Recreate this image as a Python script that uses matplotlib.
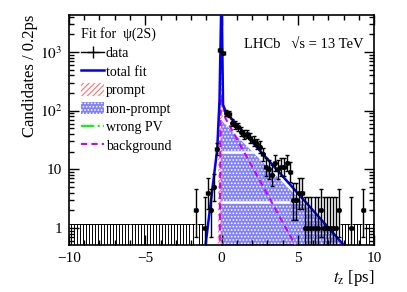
import math
import numpy as np
import matplotlib
matplotlib.use("Agg")
import matplotlib.pyplot as plt
from matplotlib.patches import Patch
from matplotlib.lines import Line2D
from matplotlib.ticker import FixedLocator, FuncFormatter, LogLocator, NullFormatter

plt.rcParams['font.family'] = ['Liberation Serif', 'DejaVu Serif']
plt.rcParams['mathtext.fontset'] = 'stix'
plt.rcParams['hatch.linewidth'] = 0.8

# data: 0.2 ps bins from -10 to 10, counts (non-zero bins only)
bin_centers = np.round(np.arange(-9.9, 10.0, 0.2), 1)
nonzero_t = [-1.7, -1.1, -0.9, -0.7, -0.5, -0.3, -0.1, 0.1, 0.3, 0.5, 0.7, 0.9,
             1.1, 1.3, 1.5, 1.7, 1.9, 2.1, 2.3, 2.5, 2.7, 2.9, 3.1, 3.3, 3.5,
             3.7, 3.9, 4.1, 4.3, 4.5, 4.7, 4.9, 5.1, 5.3, 5.5, 5.7, 5.9, 6.1,
             6.3, 6.5, 6.7, 6.9, 7.1, 7.3, 7.5, 7.7, 8.5, 9.3]
nonzero_n = [2, 1, 4, 2, 5, 22, 1100, 960, 91, 88, 62, 57,
             53, 44, 39, 40, 34, 30, 27, 24, 18, 11, 10, 8, 13,
             10, 11, 11, 13, 9, 3, 3, 4, 4, 1, 1, 1, 1,
             1, 2, 1, 1, 1, 1, 1, 2, 1, 2]

# fit components, read as (t, value) nodes
total_t = [-1.05, -0.28, -0.13, -0.02, 0.02, 0.1, 0.3, 8.3]
total_v = [0.5, 22, 155, 6000, 6000, 126, 93, 0.42]
prompt_t = [-0.26, -0.2, -0.06, 0.0, 0.04, 0.08, 0.09]
prompt_v = [0.3, 100, 2000, 4000, 2000, 100, 0.3]
nonprompt_t = [-0.07, -0.06, 0.05, 8.1]
nonprompt_v = [0.3, 50, 66, 0.5]
wrongpv_t = [-10, 10]
wrongpv_v = [0.05, 0.05]
bkg_t = [-0.12, -0.05, 0.02, 0.25, 4.85]
bkg_v = [0.4, 180, 180, 75, 0.5]

ymin, ymax = 0.51, 4300


def poisson_cdf(n, mu):
    if n < 0:
        return 0.0
    logs = [-mu + k * math.log(mu) - math.lgamma(k + 1) for k in range(n + 1)]
    m = max(logs)
    return min(1.0, math.exp(m) * sum(math.exp(v - m) for v in logs))


def solve(f, target, lo, hi):
    # f decreasing in mu
    for _ in range(80):
        mid = 0.5 * (lo + hi)
        if f(mid) > target:
            lo = mid
        else:
            hi = mid
    return 0.5 * (lo + hi)


def poisson_interval(n):
    if n == 0:
        return 0.0, -math.log(1 - 0.6827)
    a = 0.5 * (1 - 0.6827)
    hi = n + 10 * math.sqrt(n) + 10
    up = solve(lambda mu: poisson_cdf(n, mu), a, 1e-9, hi)
    low = solve(lambda mu: poisson_cdf(n - 1, mu), 1 - a, 1e-9, hi)
    return low, up


fig, ax = plt.subplots(figsize=(4.07, 2.92), dpi=100)
fig.subplots_adjust(left=0.1695, right=0.919, top=0.9486, bottom=0.161)
ax.set_yscale('log')

# non-prompt fill
np_poly = ax.fill(nonprompt_t + [nonprompt_t[-1], nonprompt_t[0]],
                  nonprompt_v + [0.1, 0.1], facecolor='#8080ff', hatch='.....',
                  edgecolor='white', lw=0, zorder=1)[0]
for lev, x1 in [(20, 10), (2.8, 4.5)]:
    ln = ax.hlines(lev, -1, x1, color='white', lw=1.8, zorder=1.5)
    ln.set_clip_path(np_poly)

# prompt hatch
ax.fill_between(prompt_t, 0.1, prompt_v, facecolor='none', hatch='//////',
                edgecolor='#ff7070', lw=0, zorder=2)

ax.plot(wrongpv_t, wrongpv_v, color='#00ff00', ls='-.', lw=1.5, zorder=3)
ax.plot(bkg_t, bkg_v, color='#cc00ff', ls=(0, (3, 2)), lw=1.5, zorder=3)
ax.plot(total_t, total_v, color='#0000ee', lw=1.8, zorder=4)

# data
counts = dict(zip(nonzero_t, nonzero_n))
n_all = np.array([counts.get(t, 0) for t in bin_centers])
intervals = [poisson_interval(int(n)) for n in n_all]
low = np.array([i[0] for i in intervals])
up = np.array([i[1] for i in intervals])

zero = n_all == 0
ax.errorbar(bin_centers[zero], up[zero], yerr=[up[zero] - 1e-3, np.zeros(zero.sum())],
            fmt='none', ecolor='black', elinewidth=0.7, capsize=1.3, capthick=0.7,
            zorder=5)
nz = ~zero
ax.errorbar(bin_centers[nz], n_all[nz], yerr=[n_all[nz] - low[nz], up[nz] - n_all[nz]],
            xerr=0.1, fmt='o', ms=2.5, color='black', ecolor='black',
            elinewidth=1.0, capsize=1.3, capthick=1.0, zorder=6)

ax.set_xlim(-10, 10)
ax.set_ylim(ymin, ymax)

ax.xaxis.set_major_locator(FixedLocator([-10, -5, 0, 5, 10]))
ax.xaxis.set_minor_locator(FixedLocator(np.arange(-10, 10.1, 1)))
ax.yaxis.set_major_locator(LogLocator(base=10, numticks=10))
ax.yaxis.set_minor_locator(LogLocator(base=10, subs=np.arange(2, 10), numticks=20))
ax.yaxis.set_minor_formatter(NullFormatter())


def ylab(v, pos):
    if v == 1:
        return '1'
    if v == 10:
        return '10'
    return r'$10^{%d}$' % round(math.log10(v))


ax.yaxis.set_major_formatter(FuncFormatter(ylab))
ax.xaxis.set_major_formatter(FuncFormatter(lambda v, p: '%d' % v if v >= 0 else '\u2212%d' % -v))
ax.tick_params(which='both', direction='in', top=True, right=True, labelsize=11, width=1)
ax.tick_params(which='major', length=7, pad=5)
ax.tick_params(which='minor', length=3.5)
for s in ax.spines.values():
    s.set_linewidth(1.2)

ax.set_ylabel('Candidates / 0.2ps', fontsize=12, loc='top', labelpad=1)
ax.set_xlabel(r'$t_{\rm z}$ [ps]', fontsize=12, loc='right', labelpad=2)

ax.text(0.574, 0.87, 'LHCb   \u221as = 13 TeV', transform=ax.transAxes,
        fontsize=10.5, va='center')

handles = [
    Line2D([], [], color='black', marker='+', ms=8, mew=1.0, lw=1.0),
    Line2D([], [], color='#0000ee', lw=1.8),
    Patch(facecolor='none', hatch='//////', edgecolor='#ff7070', lw=0),
    Patch(facecolor='#8080ff', hatch='.....', edgecolor='white', lw=0),
    Line2D([], [], color='#00ff00', ls='-.', lw=1.5),
    Line2D([], [], color='#cc00ff', ls=(0, (3, 2)), lw=1.5),
]
labels = ['data', 'total fit', 'prompt', 'non-prompt', 'wrong PV', 'background']
leg = ax.legend(handles, labels, title='Fit for  \u03c8(2S)', loc='upper left',
                frameon=False, fontsize=10, title_fontsize=10, handlelength=1.6,
                handleheight=1.0, handletextpad=0.15, labelspacing=0.33,
                borderaxespad=0.5, alignment='left')

fig.savefig('out.png', dpi=100)
